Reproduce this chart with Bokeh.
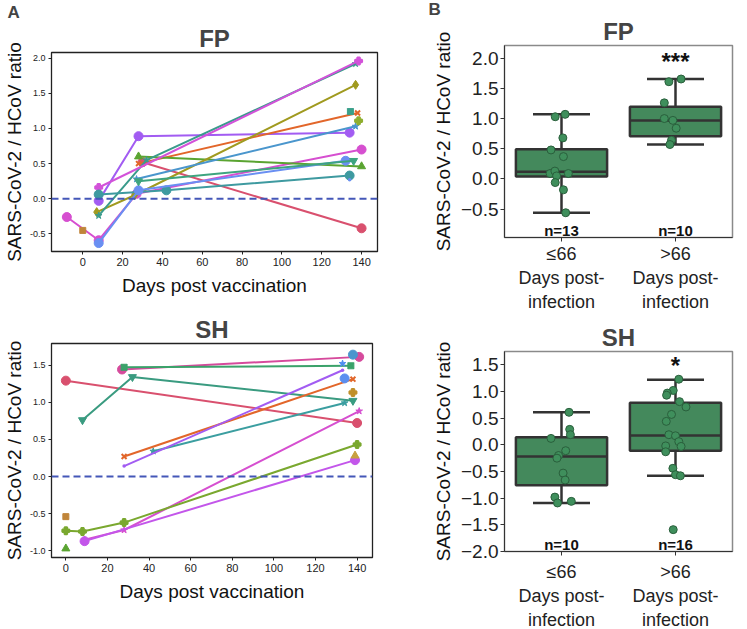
from bokeh.plotting import figure
from bokeh.layouts import row, column
from bokeh.models import Span, Title, FixedTicker, Range1d, NumeralTickFormatter
from bokeh.core.properties import value
from bokeh.embed import file_html
from bokeh.resources import INLINE

FONT = "Liberation Sans"

# ---------------- Panel A : FP (days post vaccination vs ratio) ----------------
FP_DAYS = [
    [8, 28, 134], [-8, 8, 27, 140], [30, 140], [28, 138], [28, 140],
    [7, 26, 137], [8, 32, 137], [8, 138.5], [27, 137], [8, 42, 134],
    [8, 28, 132], [28, 136], [0], [134.4], [138.5], [134],
]
FP_RATIO = [
    [-0.03, 0.89, 0.94], [-0.26, -0.59, 0.07, 0.70], [0.52, -0.42], [0.50, 1.22], [0.60, 0.46],
    [-0.19, 0.05, 1.62], [-0.24, 0.55, 1.92], [0.16, 1.96], [0.28, 1.03], [0.06, 0.12, 0.33],
    [-0.63, 0.12, 0.54], [0.25, 0.54], [-0.45], [1.24], [1.11], [0.27],
]
FP_COLOR = ["#a25cf2", "#d64fd0", "#d9506e", "#e2662a", "#5aa431",
            "#a09a1f", "#3a9b8c", "#d352d9", "#4a96cd", "#3e9aa0",
            "#6a8ff2", "#3da47f", "#c0853a", "#3aa08a", "#8fae2f", "#6a8ff2"]
FP_MARKER = ["circle", "circle", "circle", "x", "triangle",
             "diamond", "star", "plus", "star", "circle",
             "circle", "inverted_triangle", "square", "square_x", "plus", "dot"]

# ---------------- Panel A : SH ----------------
SH_DAYS = [
    [0, 140], [27, 141], [28, 137], [8, 32, 138], [42, 134], [28, 138], [28, 133],
    [133], [134], [138], [138], [9, 28, 141], [9, 139], [0, 8, 28, 140], [0], [0], [139],
]
SH_RATIO = [
    [1.29, 0.72], [1.44, 1.61], [1.47, 1.49], [0.76, 1.34, 1.02], [0.34, 0.99], [0.27, 1.31],
    [0.14, 1.43], [1.52], [1.32], [1.64], [1.13], [-0.85, -0.72, 0.88], [-0.87, 0.22],
    [-0.73, -0.74, -0.62, 0.43], [-0.54], [-0.97], [0.28],
]
SH_COLOR = ["#d9506e", "#d64a9c", "#3ba26a", "#3a9b80", "#3b9ea0", "#e2662a", "#a25cf2",
            "#4f8ef0", "#5a8ef0", "#4a96cd", "#c0902a", "#d64fd0", "#c356ea",
            "#7aa82f", "#c0853a", "#5aa431", "#c8a040"]
SH_MARKER = ["circle", "circle", "square_x", "inverted_triangle", "star", "x", "dot",
             "star", "circle", "circle", "plus", "star", "circle",
             "plus", "square", "triangle", "triangle"]

A_XTICKS = [0, 20, 40, 60, 80, 100, 120, 140]
FP_A_YTICKS = [-0.5, 0.0, 0.5, 1.0, 1.5, 2.0]
SH_A_YTICKS = [-1.0, -0.5, 0.0, 0.5, 1.0, 1.5]

# ---------------- Panel B : box plots ----------------
GROUPS = ["\u226466\nDays post-\ninfection", ">66\nDays post-\ninfection"]

FPB_LOW = [1.03, 1.07, 0.68, 0.48, 0.37, 0.09, 0.13, 0.05, 0.09, -0.06, -0.18, -0.56]
FPB_LOW_JIT = [-0.055, 0.032, 0.012, -0.092, 0.017, -0.10, -0.058, -0.043, 0.06, -0.055, 0.017, 0.037]
FPB_HIGH = [1.61, 1.655, 1.26, 1.0, 0.97, 0.84, 0.64, 0.57]
FPB_HIGH_JIT = [-0.058, 0.049, -0.098, -0.098, -0.023, 0.006, -0.035, -0.049]
FPB_Q1 = [0.04, 0.705]
FPB_MED = [0.12, 0.967]
FPB_Q3 = [0.49, 1.195]
FPB_LO = [-0.56, 0.57]
FPB_HI = [1.07, 1.655]
FPB_N = ["n=13", "n=10"]
FPB_SIG = "***"

SHB_LOW = [0.61, 0.29, 0.19, 0.12, -0.11, -0.2, -0.25, -0.53, -0.66, -0.98, -1.09, -1.06]
SHB_LOW_JIT = [0.066, 0.072, 0.078, -0.092, 0.037, -0.026, -0.04, 0.014, 0.032, -0.058, -0.035, 0.086]
SHB_HIGH = [1.23, 1.02, 0.97, 0.93, 0.81, 0.71, 0.57, 0.44, 0.19, 0.17, 0.06, -0.02, -0.03,
            -0.13, -0.44, -0.56, -0.58, -1.59]
SHB_HIGH_JIT = [0.029, -0.02, -0.072, -0.078, 0.035, 0.092, -0.035, -0.081, -0.058, 0.0, 0.029,
                -0.086, 0.049, -0.086, -0.023, 0.0, 0.043, -0.02]
SHB_Q1 = [-0.76, -0.11]
SHB_MED = [-0.22, 0.175]
SHB_Q3 = [0.14, 0.79]
SHB_LO = [-1.09, -0.58]
SHB_HI = [0.61, 1.22]
SHB_N = ["n=10", "n=16"]
SHB_SIG = "*"

FPB_YTICKS = [-0.5, 0.0, 0.5, 1.0, 1.5, 2.0]
SHB_YTICKS = [-2.0, -1.5, -1.0, -0.5, 0.0, 0.5, 1.0, 1.5]

YLABEL = "SARS-CoV-2 / HCoV ratio"
XLABEL_A = "Days post vaccination"

MSIZE = {"circle": 9, "dot": 14, "x": 7, "plus": 7, "star": 7, "triangle": 8,
         "inverted_triangle": 8, "diamond": 9, "square": 6, "square_x": 6}


def add_titles(p, title, letter, letter_offset, title_standoff, letter_standoff):
    p.add_layout(Title(text=title, align="center", text_font_size="24px",
                       text_font_style="bold", text_font=FONT, standoff=title_standoff), "above")
    if letter:
        p.add_layout(Title(text=letter, align="left", offset=letter_offset, text_font_size="17px",
                           text_font_style="bold", text_font=FONT, standoff=letter_standoff), "above")


def panel_a(title, letter, days, ratio, colors, markers, xr, yr, yticks, fw, fh, bl, br, bt, bb):
    p = figure(frame_width=fw, frame_height=fh, x_range=Range1d(*xr), y_range=Range1d(*yr),
               output_backend="svg", toolbar_location=None,
               min_border_left=bl, min_border_right=br, min_border_top=bt, min_border_bottom=bb)
    add_titles(p, title, letter, -44, 2, 0)
    p.grid.visible = False
    p.outline_line_color = "#222222"
    p.outline_line_width = 1.3
    p.add_layout(Span(location=0, dimension="width", line_color="#4457b8",
                      line_dash="7 4", line_width=2))
    for d, r, c, m in zip(days, ratio, colors, markers):
        if len(d) > 1:
            p.line(d, r, line_color=c, line_width=2)
        p.scatter(d, r, marker=m, size=MSIZE[m], fill_color=c, line_color=c,
                  line_width=2 if m in ("x", "plus") else 1)
    p.xaxis.ticker = FixedTicker(ticks=A_XTICKS)
    p.yaxis.ticker = FixedTicker(ticks=yticks)
    p.yaxis.formatter = NumeralTickFormatter(format="0.0")
    p.xaxis.axis_label = XLABEL_A
    p.yaxis.axis_label = YLABEL
    for ax in (p.xaxis, p.yaxis):
        ax.axis_label_text_font = FONT
        ax.axis_label_text_font_size = "19px"
        ax.axis_label_text_font_style = "normal"
        ax.axis_label_text_color = "#111111"
        ax.major_label_text_font = FONT
        ax.major_label_text_color = "#222222"
        ax.minor_tick_line_color = None
        ax.major_tick_out = 3
        ax.major_tick_in = 0
        ax.axis_line_color = "#222222"
        ax.major_tick_line_color = "#222222"
        ax.major_label_standoff = 3
        ax.axis_label_standoff = 6
    p.xaxis.major_label_text_font_size = "11px"
    p.yaxis.major_label_text_font_size = "9px"
    p.yaxis.axis_label_standoff = 2
    return p


def panel_b(title, letter, lows, lows_j, highs, highs_j, q1, med, q3, lo, hi, ns, sig,
            yr, yticks, n_y, sig_y, fw, fh, bl, br, bt, bb, xstandoff):
    p = figure(frame_width=fw, frame_height=fh, x_range=Range1d(-0.5, 1.5), y_range=Range1d(*yr),
               output_backend="svg", toolbar_location=None,
               min_border_left=bl, min_border_right=br, min_border_top=bt, min_border_bottom=bb)
    add_titles(p, title, letter, -76, 1, -6)
    p.grid.visible = False
    p.outline_line_color = "#8a8a8a"
    p.outline_line_width = 1.5
    xs = [0, 1]
    edge = "#333333"
    p.segment(x0=xs, y0=q3, x1=xs, y1=hi, line_color=edge, line_width=2.5)
    p.segment(x0=xs, y0=q1, x1=xs, y1=lo, line_color=edge, line_width=2.5)
    p.segment(x0=[x - 0.25 for x in xs], y0=hi, x1=[x + 0.25 for x in xs], y1=hi,
              line_color=edge, line_width=2.5)
    p.segment(x0=[x - 0.25 for x in xs], y0=lo, x1=[x + 0.25 for x in xs], y1=lo,
              line_color=edge, line_width=2.5)
    p.quad(left=[x - 0.4 for x in xs], right=[x + 0.4 for x in xs], bottom=q1, top=q3,
           fill_color="#44895c", line_color=edge, line_width=2.5)
    p.segment(x0=[x - 0.4 for x in xs], y0=med, x1=[x + 0.4 for x in xs], y1=med,
              line_color=edge, line_width=2.5)
    for i, (vals, jit) in enumerate([(lows, lows_j), (highs, highs_j)]):
        p.scatter([i + j for j in jit], vals, size=8, fill_color="#3f8f5c",
                  line_color="#2a5f3c", line_width=1)
    p.text(x=[1], y=[sig_y], text=[sig], text_font=value(FONT), text_font_style="bold",
           text_font_size="24px", text_align="center", text_baseline="middle", text_color="#111111")
    p.text(x=xs, y=[n_y, n_y], text=ns, text_font=value(FONT), text_font_style="bold",
           text_font_size="15px", text_align="center", text_baseline="middle", text_color="#111111")
    p.xaxis.ticker = FixedTicker(ticks=xs)
    p.xaxis.major_label_overrides = {0: GROUPS[0], 1: GROUPS[1]}
    p.yaxis.ticker = FixedTicker(ticks=yticks)
    p.yaxis.major_label_overrides = {t: ("%.1f" % t).replace("-", "\u2212") for t in yticks}
    p.yaxis.axis_label = YLABEL
    for ax in (p.xaxis, p.yaxis):
        ax.axis_label_text_font = FONT
        ax.axis_label_text_font_size = "19px"
        ax.axis_label_text_font_style = "normal"
        ax.axis_label_text_color = "#111111"
        ax.major_label_text_font = FONT
        ax.major_label_text_font_size = "19px"
        ax.major_label_text_color = "#222222"
        ax.minor_tick_line_color = None
        ax.major_tick_out = 4
        ax.major_tick_in = 0
        ax.axis_line_color = "#333333"
        ax.major_tick_line_color = "#333333"
        ax.major_label_standoff = 2
        ax.axis_label_standoff = 4
    p.xaxis.major_label_text_font_size = "18px"
    p.xaxis.major_label_standoff = xstandoff
    return p


fpA = panel_a("FP", "A", FP_DAYS, FP_RATIO, FP_COLOR, FP_MARKER, (-15.7, 148), (-0.75, 2.08),
              FP_A_YTICKS, 326, 199, 44, 12, 44, 54)
shA = panel_a("SH", None, SH_DAYS, SH_RATIO, SH_COLOR, SH_MARKER, (-6.9, 147.4), (-1.09, 1.79),
              SH_A_YTICKS, 321, 214, 44, 17, 38, 58)
fpB = panel_b("FP", "B", FPB_LOW, FPB_LOW_JIT, FPB_HIGH, FPB_HIGH_JIT, FPB_Q1, FPB_MED, FPB_Q3,
              FPB_LO, FPB_HI, FPB_N, FPB_SIG, (-0.97, 2.21), FPB_YTICKS, -0.86, 1.95,
              228, 192, 115, 3, 40, 73, 2)
shB = panel_b("SH", None, SHB_LOW, SHB_LOW_JIT, SHB_HIGH, SHB_HIGH_JIT, SHB_Q1, SHB_MED, SHB_Q3,
              SHB_LO, SHB_HI, SHB_N, SHB_SIG, (-2.0, 1.75), SHB_YTICKS, -1.86, 1.48,
              228, 200, 115, 3, 37, 72, 6)

layout = row(column(fpA, shA), column(fpB, shB))
open("out.html", "w").write(file_html(layout, INLINE))
